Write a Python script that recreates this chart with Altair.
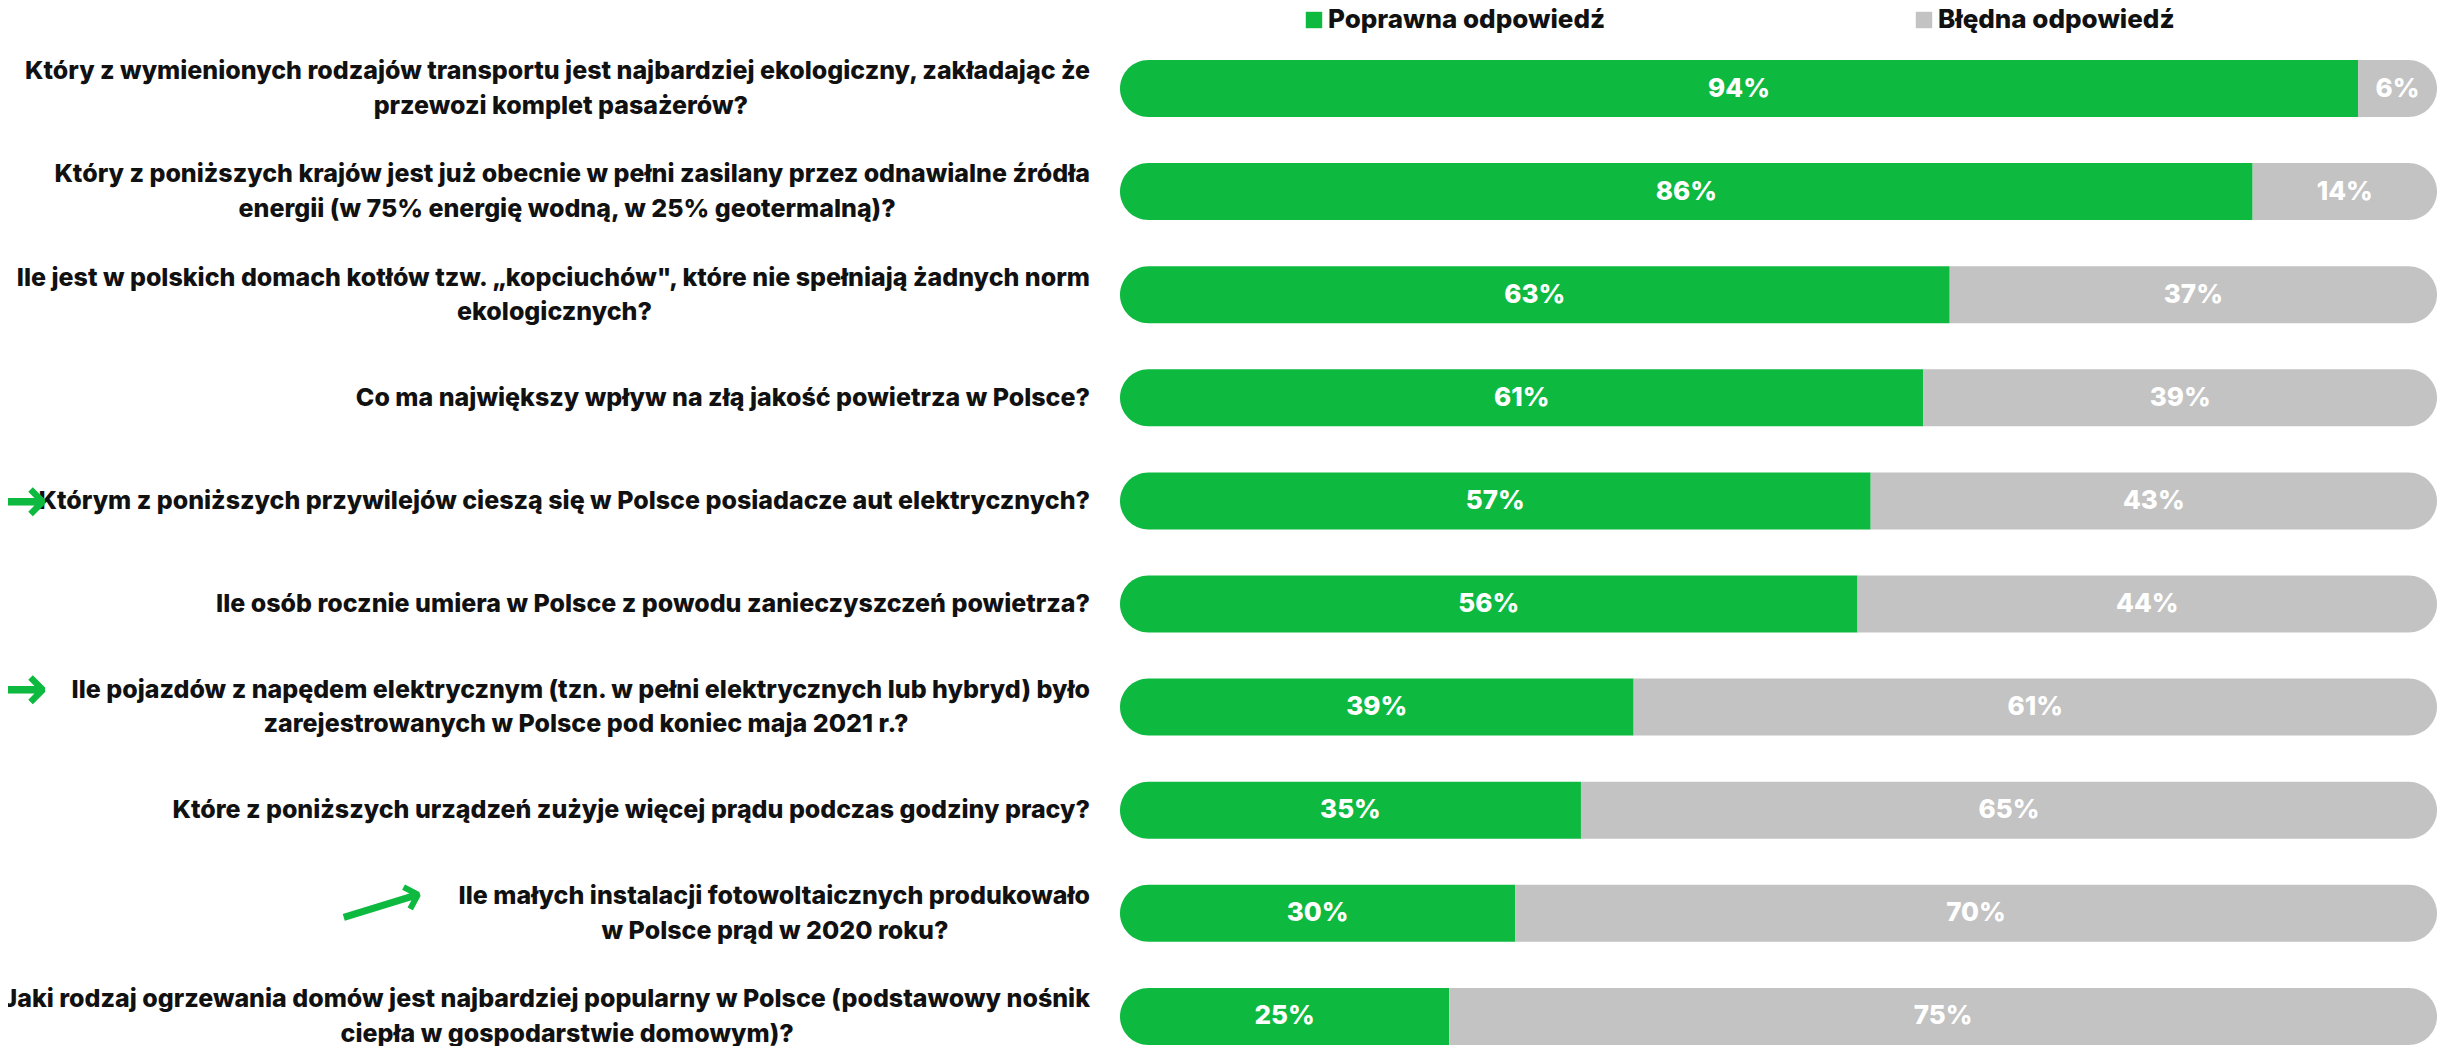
import altair as alt
import pandas as pd

# ---------------- data ----------------
questions = [
    "Który z wymienionych rodzajów transportu jest najbardziej ekologiczny, zakładając że\nprzewozi komplet pasażerów?",
    "Który z poniższych krajów jest już obecnie w pełni zasilany przez odnawialne źródła\nenergii (w 75% energię wodną, w 25% geotermalną)?",
    "Ile jest w polskich domach kotłów tzw. „kopciuchów\", które nie spełniają żadnych norm\nekologicznych?",
    "Co ma największy wpływ na złą jakość powietrza w Polsce?",
    "Którym z poniższych przywilejów cieszą się w Polsce posiadacze aut elektrycznych?",
    "Ile osób rocznie umiera w Polsce z powodu zanieczyszczeń powietrza?",
    "Ile pojazdów z napędem elektrycznym (tzn. w pełni elektrycznych lub hybryd) było\nzarejestrowanych w Polsce pod koniec maja 2021 r.?",
    "Które z poniższych urządzeń zużyje więcej prądu podczas godziny pracy?",
    "Ile małych instalacji fotowoltaicznych produkowało\nw Polsce prąd w 2020 roku?",
    "Jaki rodzaj ogrzewania domów jest najbardziej popularny w Polsce (podstawowy nośnik\nciepła w gospodarstwie domowym)?",
]
correct = [94, 86, 63, 61, 57, 56, 39, 35, 30, 25]
wrong = [6, 14, 37, 39, 43, 44, 61, 65, 70, 75]
series = ["Poprawna odpowiedź", "Błędna odpowiedź"]
colors = ["#0DB93F", "#C3C3C3"]
arrow_rows = [4, 6, 8]

# ---------------- layout constants ----------------
W, H = 2437, 1038
X0, X1 = 1112, 2429
STEP, BAR_H, TOP = 103.1, 57, 52
LABEL_RIGHT = 1082
LINE_H = 34.4
FONT = "Inter"
LABEL_SIZE = 25
CHAR_W = 12.6
n = len(questions)

p_in = 1 - BAR_H / STEP
p_out = p_in / 2
y_start = TOP - STEP * p_out
xscale = alt.Scale(domain=[0, 100], range=[X0, X1], nice=False, zero=False)
yscale = alt.Scale(domain=list(range(n)), range=[y_start, y_start + STEP * n],
                   paddingInner=p_in, paddingOuter=p_out)

rows = []
for i, q in enumerate(questions):
    lines = q.split("\n")
    rows.append({
        "row": i,
        "line1": lines[0],
        "line2": lines[1] if len(lines) > 1 else "",
        "nlines": len(lines),
        "cx": LABEL_RIGHT - len(lines[0]) * CHAR_W / 2,
    })
qdf = pd.DataFrame(rows)

seg = []
for i in range(n):
    seg.append({"row": i, "series": series[0], "start": 0, "end": correct[i],
                "mid": correct[i] / 2, "pct": f"{correct[i]}%"})
    seg.append({"row": i, "series": series[1], "start": correct[i], "end": correct[i] + wrong[i],
                "mid": correct[i] + wrong[i] / 2, "pct": f"{wrong[i]}%"})
sdf = pd.DataFrame(seg)

Y = alt.Y("row:O", scale=yscale, axis=None)
R = BAR_H / 2

green = alt.Chart(sdf).transform_filter(alt.datum.series == series[0]).mark_bar(
    color=colors[0], cornerRadiusTopLeft=R, cornerRadiusBottomLeft=R
).encode(x=alt.X("start:Q", scale=xscale, axis=None), x2="end:Q", y=Y)

grey = alt.Chart(sdf).transform_filter(alt.datum.series == series[1]).mark_bar(
    color=colors[1], cornerRadiusTopRight=R, cornerRadiusBottomRight=R
).encode(x=alt.X("start:Q", scale=xscale, axis=None), x2="end:Q", y=Y)

pct = alt.Chart(sdf).mark_text(
    color="white", font=FONT, fontWeight=800, fontSize=26, baseline="middle"
).encode(x=alt.X("mid:Q", scale=xscale, axis=None), y=Y, text="pct:N")

txt = dict(font=FONT, fontWeight=800, fontSize=LABEL_SIZE, color="#111111", baseline="middle")

single = alt.Chart(qdf).transform_filter(alt.datum.nlines == 1).mark_text(
    align="right", **txt
).encode(x=alt.value(LABEL_RIGHT), y=Y, text="line1:N")

first = alt.Chart(qdf).transform_filter(alt.datum.nlines == 2).mark_text(
    align="right", dy=-LINE_H / 2, **txt
).encode(x=alt.value(LABEL_RIGHT), y=Y, text="line1:N")

second = alt.Chart(qdf).transform_filter(alt.datum.nlines == 2).mark_text(
    align="center", dy=LINE_H / 2, **txt
).encode(x=alt.X("cx:Q", scale=None), y=Y, text="line2:N")

adf = pd.DataFrame({"row": arrow_rows, "glyph": ["⟶"] * len(arrow_rows)})
arrow_a = alt.Chart(adf).transform_filter(alt.datum.row == 4).mark_text(
    align="right", baseline="middle", font="DejaVu Sans", fontWeight="bold", fontSize=64,
    color=colors[0], dy=2
).encode(x=alt.value(40), y=Y, text="glyph:N")
arrow_b = alt.Chart(adf).transform_filter(alt.datum.row == 6).mark_text(
    align="right", baseline="middle", font="DejaVu Sans", fontWeight="bold", fontSize=64,
    color=colors[0], dy=-LINE_H / 2 + 1
).encode(x=alt.value(40), y=Y, text="glyph:N")
arrow_c = alt.Chart(adf).transform_filter(alt.datum.row == 8).mark_text(
    align="center", baseline="middle", font="DejaVu Sans", fontWeight="bold", fontSize=60,
    color=colors[0], dy=-LINE_H / 2 + 10, angle=343
).encode(x=alt.value(376), y=Y, text="glyph:N")

ldf = pd.DataFrame({"series": series, "color": colors})
legend_layers = []
leg_sq_x = [1306, 1916]
for k in range(2):
    legend_layers.append(
        alt.Chart(ldf).transform_filter(alt.datum.series == series[k]).mark_square(
            size=270, color=colors[k], opacity=1
        ).encode(x=alt.value(leg_sq_x[k]), y=alt.value(12))
    )
    legend_layers.append(
        alt.Chart(ldf).transform_filter(alt.datum.series == series[k]).mark_text(
            align="left", baseline="middle", font=FONT, fontWeight=800, fontSize=26, color="#111111"
        ).encode(x=alt.value(leg_sq_x[k] + 14), y=alt.value(12), text="series:N")
    )

chart = alt.layer(
    green, grey, pct, single, first, second, arrow_a, arrow_b, arrow_c, *legend_layers
).properties(
    width=W, height=H, autosize=alt.AutoSizeParams(type="none"), padding=0, background="white"
).configure_view(stroke=None)

chart.save("out.html", embed_options={"renderer": "svg", "actions": False})
